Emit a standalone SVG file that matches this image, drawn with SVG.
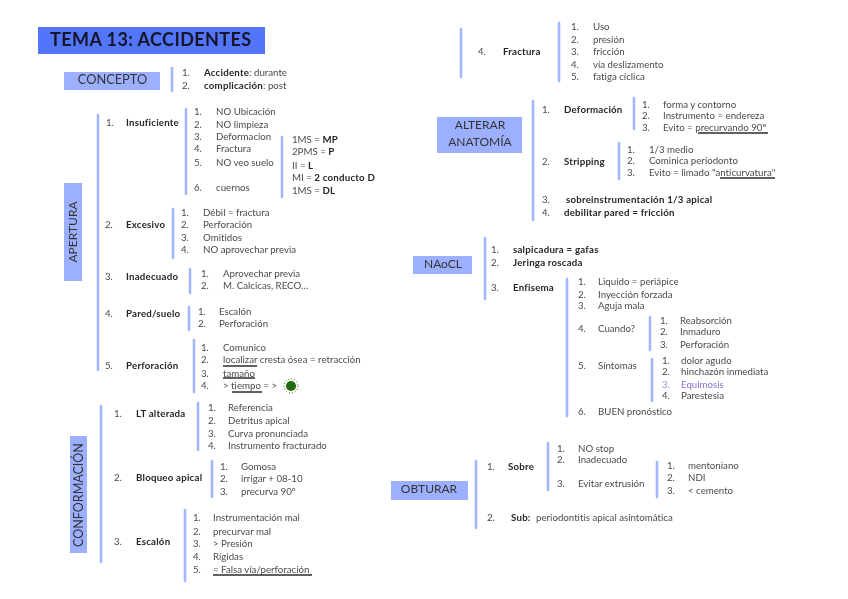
<svg xmlns="http://www.w3.org/2000/svg" width="848" height="599" viewBox="0 0 848 599">
<style>
text{font-family:"Lato","Open Sans","Liberation Sans",sans-serif;font-size:9.7px;fill:#4a4a4a;font-variant-ligatures:none}
.b{font-weight:700;fill:#262626;letter-spacing:.22px}
.r{font-weight:400;fill:#4a4a4a;letter-spacing:0}
.h{font-size:12px;fill:#333;text-anchor:middle}
.box{fill:#9cb0ff}
.bar{stroke:#a4b6ff;stroke-width:2.6;stroke-linecap:round;fill:none}
.u{stroke:#2b2b2b;stroke-width:1.3;fill:none}
</style>
<defs><filter id="soft" x="-2%" y="-2%" width="104%" height="104%"><feGaussianBlur stdDeviation="0.35"/></filter></defs>
<rect width="848" height="599" fill="#fff"/>
<g filter="url(#soft)">
<g id="connectors">
<path class="bar" d="M172 68V91M98 115V370M186 109V194M282 137V197M173 209V258M190 269V293M189 307V330M194 340V392M101 406V562M198 403V450M212 461V497M185 510V581"/>
<path class="bar" d="M461 29V77M559 23V81M533 101V220M634 98V129M619 143V179M485 238V299M567 279V416M650 317V350M652 359V401M476 461V528M548 443V490M657 462V497"/>
<path class="u" d="M223 366H257M223 378H255M232 392H262M213 575H312M698 133H768M720 178H775"/>
</g>
<g id="title"><rect x="38" y="27" width="227" height="27" fill="#5274fb"/><text x="50" y="46" style="font-size:18px;font-weight:700;fill:#141428;letter-spacing:.42px">TEMA 13: ACCIDENTES</text></g>
<g id="concepto"><rect class="box" x="64" y="72" width="96" height="18"/><text class="h" style="font-size:12.800px" x="112.500" y="84">CONCEPTO</text>
<text x="182" y="76">1.</text><text class="b" x="204" y="76">Accidente<tspan class="r">: durante</tspan></text>
<text x="182" y="89">2.</text><text class="b" x="204" y="89">complicación<tspan class="r">: post</tspan></text></g>
<g id="apertura"><rect class="box" x="64" y="183" width="18" height="98"/><text class="h" transform="translate(77 232) rotate(-90)">APERTURA</text></g>
<g id="insuficiente"><text x="106" y="126">1.</text><text class="b" x="126" y="126">Insuficiente</text>
<text x="194" y="115">1.</text><text x="216" y="115">NO Ubicación</text>
<text x="194" y="128">2.</text><text x="216" y="128">NO limpieza</text>
<text x="194" y="140">3.</text><text x="216" y="140">Deformacion</text>
<text x="194" y="152">4.</text><text x="216" y="152">Fractura</text>
<text x="194" y="166">5.</text><text x="216" y="166">NO veo suelo</text>
<text x="194" y="191">6.</text><text x="216" y="191">cuernos</text>
<text x="292" y="143">1MS = <tspan class="b">MP</tspan></text>
<text x="292" y="155">2PMS = <tspan class="b">P</tspan></text>
<text x="292" y="169">II = <tspan class="b">L</tspan></text>
<text x="292" y="181">MI = <tspan class="b">2 conducto D</tspan></text>
<text x="292" y="194">1MS = <tspan class="b">DL</tspan></text></g>
<g id="excesivo"><text x="105" y="228">2.</text><text class="b" x="126" y="228">Excesivo</text>
<text x="181" y="216">1.</text><text x="203" y="216">Débil = fractura</text>
<text x="181" y="228">2.</text><text x="203" y="228">Perforación</text>
<text x="181" y="241">3.</text><text x="203" y="241">Omitidos</text>
<text x="181" y="253">4.</text><text x="203" y="253">NO aprovechar previa</text></g>
<g id="inadecuado"><text x="105" y="280">3.</text><text class="b" x="126" y="280">Inadecuado</text>
<text x="201" y="277">1.</text><text x="223" y="277">Aprovechar previa</text>
<text x="201" y="289">2.</text><text x="223" y="289">M. Calcicas, RECO…</text></g>
<g id="pared"><text x="105" y="317">4.</text><text class="b" x="126" y="317">Pared/suelo</text>
<text x="198" y="315">1.</text><text x="219" y="315">Escalón</text>
<text x="198" y="327">2.</text><text x="219" y="327">Perforación</text></g>
<g id="perforacion"><text x="105" y="369">5.</text><text class="b" x="126" y="369">Perforación</text>
<text x="201" y="351">1.</text><text x="223" y="351">Comunico</text>
<text x="201" y="363">2.</text><text x="223" y="363">localizar cresta ósea = retracción</text>
<text x="201" y="377">3.</text><text x="223" y="377">tamaño</text>
<text x="201" y="389">4.</text><text x="223" y="389">&gt; tiempo = &gt;</text>
<circle cx="291" cy="386" r="5" fill="#236b0c"/><circle cx="291" cy="386" r="7" fill="none" stroke="#236b0c" stroke-width="1" stroke-dasharray="1 2"/></g>
<g id="conformacion"><rect class="box" x="70" y="436" width="17" height="117"/><text class="h" style="font-size:12.500px" transform="translate(83 495) rotate(-90)">CONFORMACIÓN</text></g>
<g id="lt"><text x="114" y="417">1.</text><text class="b" x="136" y="417">LT alterada</text>
<text x="208" y="411">1.</text><text x="228" y="411">Referencia</text>
<text x="208" y="424">2.</text><text x="228" y="424">Detritus apical</text>
<text x="208" y="437">3.</text><text x="228" y="437">Curva pronunciada</text>
<text x="208" y="449">4.</text><text x="228" y="449">Instrumento fracturado</text></g>
<g id="bloqueo"><text x="114" y="481">2.</text><text class="b" x="136" y="481">Bloqueo apical</text>
<text x="220" y="470">1.</text><text x="241" y="470">Gomosa</text>
<text x="220" y="482">2.</text><text x="241" y="482">irrigar + 08-10</text>
<text x="220" y="495">3.</text><text x="241" y="495">precurva 90º</text></g>
<g id="escalon"><text x="114" y="545">3.</text><text class="b" x="136" y="545">Escalón</text>
<text x="193" y="521">1.</text><text x="213" y="521">Instrumentación mal</text>
<text x="193" y="535">2.</text><text x="213" y="535">precurvar mal</text>
<text x="193" y="547">3.</text><text x="213" y="547">&gt; Presión</text>
<text x="193" y="560">4.</text><text x="213" y="560">Rígidas</text>
<text x="193" y="573">5.</text><text x="213" y="573">= Falsa vía/perforación</text></g>
<g id="fractura"><text x="478" y="55">4.</text><text class="b" x="503" y="55">Fractura</text>
<text x="571" y="30">1.</text><text x="593" y="30">Uso</text>
<text x="571" y="43">2.</text><text x="593" y="43">presión</text>
<text x="571" y="55">3.</text><text x="593" y="55">fricción</text>
<text x="571" y="68">4.</text><text x="593" y="68">vía deslizamento</text>
<text x="571" y="80">5.</text><text x="593" y="80">fatiga cíclica</text></g>
<g id="alterar"><rect class="box" x="437" y="117" width="85" height="36"/><text class="h" x="480" y="129">ALTERAR</text><text class="h" x="480" y="146">ANATOMÍA</text></g>
<g id="deformacion"><text x="542" y="113">1.</text><text class="b" x="564" y="113">Deformación</text>
<text x="642" y="108">1.</text><text x="663" y="108">forma y contorno</text>
<text x="642" y="119">2.</text><text x="663" y="119">Instrumento = endereza</text>
<text x="642" y="131">3.</text><text x="663" y="131">Evito = precurvando 90º</text></g>
<g id="stripping"><text x="542" y="165">2.</text><text class="b" x="564" y="165">Stripping</text>
<text x="627" y="153">1.</text><text x="649" y="153">1/3 medio</text>
<text x="627" y="164">2.</text><text x="649" y="164">Cominica periodonto</text>
<text x="627" y="176">3.</text><text x="649" y="176">Evito = limado "anticurvatura"</text></g>
<g id="sobreinstrumentacion"><text x="542" y="203">3.</text><text class="b" x="566" y="203">sobreinstrumentación 1/3 apical</text></g>
<g id="debilitar"><text x="542" y="216">4.</text><text class="b" x="564" y="216">debilitar pared = fricción</text></g>
<g id="naocl"><rect class="box" x="413" y="256" width="59" height="18"/><text class="h" x="443" y="268">NAoCL</text>
<text x="491" y="253">1.</text><text class="b" x="513" y="253">salpicadura = gafas</text>
<text x="491" y="266">2.</text><text class="b" x="513" y="266">Jeringa roscada</text></g>
<g id="enfisema"><text x="491" y="291">3.</text><text class="b" x="513" y="291">Enfisema</text>
<text x="578" y="285">1.</text><text x="598" y="285">Liquido = periápice</text>
<text x="578" y="298">2.</text><text x="598" y="298">Inyección forzada</text>
<text x="578" y="309">3.</text><text x="598" y="309">Aguja mala</text>
<text x="578" y="332">4.</text><text x="598" y="332">Cuando?</text>
<text x="660" y="324">1.</text><text x="680" y="324">Reabsorción</text>
<text x="660" y="335">2.</text><text x="680" y="335">Inmaduro</text>
<text x="660" y="348">3.</text><text x="680" y="348">Perforación</text>
<text x="578" y="369">5.</text><text x="598" y="369">Síntomas</text>
<text x="662" y="364">1.</text><text x="681" y="364">dolor agudo</text>
<text x="662" y="375">2.</text><text x="681" y="375">hinchazón inmediata</text>
<text x="662" y="388" style="fill:#a48be0">3.</text><text x="681" y="388" style="fill:#8f6fdc">Equimosis</text>
<text x="662" y="399">4.</text><text x="681" y="399">Parestesia</text>
<text x="578" y="415">6.</text><text x="598" y="415">BUEN pronóstico</text></g>
<g id="obturar"><rect class="box" x="391" y="481" width="77" height="19"/><text class="h" x="429" y="493">OBTURAR</text></g>
<g id="sobre"><text x="487" y="470">1.</text><text class="b" x="508" y="470">Sobre</text>
<text x="557" y="452">1.</text><text x="578" y="452">NO stop</text>
<text x="557" y="463">2.</text><text x="578" y="463">Inadecuado</text>
<text x="557" y="487">3.</text><text x="578" y="487">Evitar extrusión</text>
<text x="667" y="469">1.</text><text x="688" y="469">mentoniano</text>
<text x="667" y="481">2.</text><text x="688" y="481">NDI</text>
<text x="667" y="494">3.</text><text x="688" y="494">&lt; cemento</text></g>
<g id="sub"><text x="487" y="521">2.</text><text class="b" x="511" y="521">Sub:</text><text x="536" y="521">periodontitis apical asintomática</text></g>
</g>
</svg>
